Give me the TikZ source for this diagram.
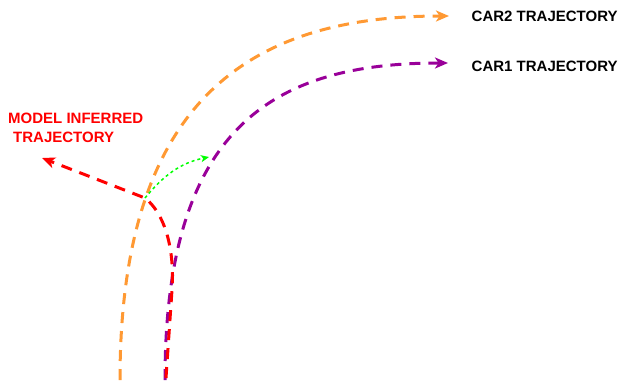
\documentclass[tikz,border=0pt]{standalone}
\usepackage{fontspec}
\setmainfont{Liberation Sans}
\usetikzlibrary{arrows.meta}
\definecolor{corange}{HTML}{FF9933}
\definecolor{cpurple}{HTML}{990099}
\definecolor{cred}{HTML}{FF0000}
\definecolor{cgreen}{HTML}{00FF00}
\tikzset{
  traj/.style={line width=3pt, dash pattern=on 11pt off 8pt, -{Stealth[length=13pt,width=11pt,inset=3.5pt]}},
  lbl/.style={anchor=base west, inner sep=0pt, font=\fontsize{15}{17}\selectfont\bfseries},
}
\begin{document}
\begin{tikzpicture}[x=1pt,y=-1pt]
\useasboundingbox (0,0) rectangle (619,384);
% coordinates
\coordinate (o0) at (120,380);
\coordinate (o1) at (449,16);
\coordinate (p0) at (165,380);
\coordinate (p1) at (448,63);
\coordinate (r0) at (166,378);
\coordinate (r1) at (172,290);
\coordinate (r2) at (145,198);
\coordinate (r3) at (42,158);
\coordinate (g1) at (209,157);
% curves
\draw[traj, corange] (o0) .. controls (120,100) and (250,16) .. (o1);
\draw[traj, cpurple] (p0) .. controls (165,130) and (270,63) .. (p1);
\draw[traj, cred] (r0) -- (r1) .. controls (175,245) and (163,212) .. (r2) -- (r3);
\draw[cgreen, line width=1.5pt, dash pattern=on 3pt off 3pt, -{Stealth[length=8pt,width=7pt,inset=2pt]}]
  (r2) .. controls (163,176) and (180,163) .. (g1);
% labels
\node[lbl] (car2) at (471.5,21.7) {CAR2 TRAJECTORY};
\node[lbl] (car1) at (471.5,71.7) {CAR1 TRAJECTORY};
\node[lbl, text=cred] (mi1) at (8,123) {MODEL INFERRED};
\node[lbl, text=cred] (mi2) at (13,142) {TRAJECTORY};
\end{tikzpicture}
\end{document}
